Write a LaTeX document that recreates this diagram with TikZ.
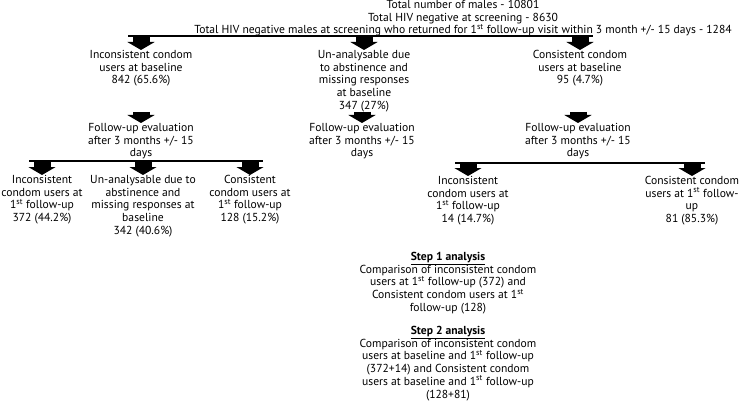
\documentclass[tikz,border=0pt]{standalone}
\usepackage{fontspec}
\setmainfont{PT Sans}
\usetikzlibrary{positioning,arrows.meta}
\tikzset{
  blockarrow/.style={line width=17pt, -{Triangle[width=27pt, length=8pt]}},
  splitbar/.style={line width=1.8pt},
  stagetext/.style={align=center, inner sep=0pt, anchor=north, font=\fontsize{11.6}{12.7}\selectfont},
  steptext/.style={align=center, inner sep=0pt, anchor=north, font=\fontsize{11.6}{12.7}\selectfont}
}

\begin{document}
\begin{tikzpicture}[x=1pt, y=-1pt]
  \useasboundingbox (0,0) rectangle (756,412);
  % totals
  \node[stagetext] (total) at (463,0) {Total number of males - 10801\\Total HIV negative at screening - 8630\\Total HIV negative males at screening who returned for 1\textsuperscript{st} follow-up visit within 3 month +/- 15 days - 1284};
  \coordinate (bar0l) at (128,36);
  \coordinate (bar0r) at (593,36);
  \draw[splitbar] (bar0l) -- (bar0r);

  % baseline groups
  \node[stagetext] (inc0) at (141,50) {Inconsistent condom\\users at baseline\\842 (65.6\%)};
  \node[stagetext] (un0) at (364,50) {Un-analysable due\\to abstinence and\\missing responses\\at baseline\\347 (27\%)};
  \node[stagetext] (cons0) at (580,50) {Consistent condom\\users at baseline\\95 (4.7\%)};
  \draw[blockarrow] (inc0.north |- bar0l) -- (inc0.north);
  \draw[blockarrow] (un0.north |- bar0l) -- (un0.north);
  \draw[blockarrow] (cons0.north |- bar0l) -- (cons0.north);

  % follow-up
  \node[stagetext] (fu1) at (141,123) {Follow-up evaluation\\after 3 months +/- 15\\days};
  \node[stagetext] (fu2) at (362,123) {Follow-up evaluation\\after 3 months +/- 15\\days};
  \node[stagetext] (fu3) at (578,123) {Follow-up evaluation\\after 3 months +/- 15\\days};
  \draw[blockarrow] ([yshift=11pt]fu1.north) -- (fu1.north);
  \draw[blockarrow] ([yshift=11pt]fu2.north) -- (fu2.north);
  \draw[blockarrow] ([yshift=11pt]fu3.north) -- (fu3.north);

  % 1st follow-up, left branch
  \coordinate (bar1l) at (29,161);
  \coordinate (bar1r) at (263,161);
  \draw[splitbar] (bar1l) -- (bar1r);
  \node[stagetext] (inc1) at (42,175) {Inconsistent\\condom users at\\1\textsuperscript{st} follow-up\\372 (44.2\%)};
  \node[stagetext] (un1) at (143,175) {Un-analysable due to\\abstinence and\\missing responses at\\baseline\\342 (40.6\%)};
  \node[stagetext] (cons1) at (250,175) {Consistent\\condom users at\\1\textsuperscript{st} follow-up\\128 (15.2\%)};
  \draw[blockarrow] (inc1.north |- bar1l) -- (inc1.north);
  \draw[blockarrow] (un1.north |- bar1l) -- (un1.north);
  \draw[blockarrow] (cons1.north |- bar1l) -- (cons1.north);

  % 1st follow-up, right branch
  \coordinate (bar2l) at (455,163);
  \coordinate (bar2r) at (705,163);
  \draw[splitbar] (bar2l) -- (bar2r);
  \node[stagetext] (inc2) at (468,176) {Inconsistent\\condom users at\\1\textsuperscript{st} follow-up\\14 (14.7\%)};
  \node[stagetext] (cons2) at (692,176) {Consistent condom\\users at 1\textsuperscript{st} follow-\\up\\81 (85.3\%)};
  \draw[blockarrow] (inc2.north |- bar2l) -- (inc2.north);
  \draw[blockarrow] (cons2.north |- bar2l) -- (cons2.north);

  % analyses
  \node[steptext] (step1) at (448,252) {\textbf{\underline{Step 1 analysis}}\\Comparison of inconsistent condom\\users at 1\textsuperscript{st} follow-up (372) and\\Consistent condom users at 1\textsuperscript{st}\\follow-up (128)};
  \node[steptext, below=12pt of step1] (step2) {\textbf{\underline{Step 2 analysis}}\\Comparison of inconsistent condom\\users at baseline and 1\textsuperscript{st} follow-up\\(372+14) and Consistent condom\\users at baseline and 1\textsuperscript{st} follow-up\\(128+81)};
\end{tikzpicture}
\end{document}
